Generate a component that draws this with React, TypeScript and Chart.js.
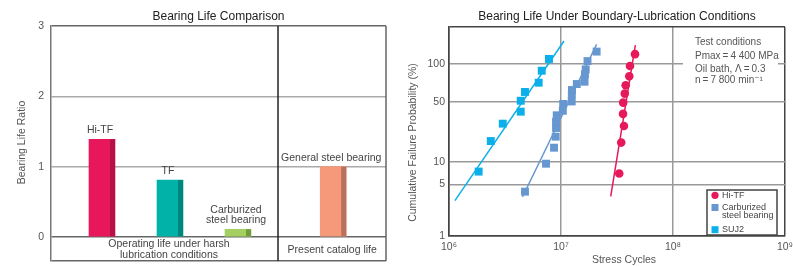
import React, { useEffect, useRef } from 'react';
import { Chart, registerables, LinearScale } from 'chart.js';

Chart.register(...registerables);

const FONT = "'Liberation Sans', Arial, Helvetica, 'DejaVu Sans', sans-serif";

// ---------------- Left chart data ----------------
const leftTitle = 'Bearing Life Comparison';
const leftYAxisTitle = 'Bearing Life Ratio';
const bearingTypes = ['Hi-TF', 'TF', 'Carburized steel bearing', 'General steel bearing'];
const bearingLabelLines = [['Hi-TF'], ['TF'], ['Carburized', 'steel bearing'], ['General steel bearing']];
const lifeRatio = [1.39, 0.81, 0.11, 1.0];
const lifeTicks = [0, 1, 2, 3];
const groupLabels = [['Operating life under harsh', 'lubrication conditions'], ['Present catalog life']];
const groupMembers = [[0, 1, 2], [3]];

// ---------------- Right chart data ----------------
const rightTitle = 'Bearing Life Under Boundary-Lubrication Conditions';
const rightYAxisTitle = 'Cumulative Failure Probability (%)';
const rightXAxisTitle = 'Stress Cycles';
const cycleTicks = [1e6, 1e7, 1e8, 1e9];
const cycleTickLabels = ['10\u2076', '10\u2077', '10\u2078', '10\u2079'];
const probTicks = [1, 5, 10, 50, 90];
const probTickLabels = ['1', '5', '10', '50', '100'];
const probMin = 1;
const probMax = 99.94;

const seriesNames = ['Hi-TF', 'Carburized steel bearing', 'SUJ2'];
const legendLines = [['Hi-TF'], ['Carburized', 'steel bearing'], ['SUJ2']];

const hiTfCycles = [3.31e7, 3.45e7, 3.65e7, 3.58e7, 3.59e7, 3.71e7, 3.78e7, 4.07e7, 4.13e7, 4.58e7];
const hiTfProb = [7.0, 17.5, 27.7, 37.9, 49.3, 59.5, 69.2, 79.0, 88.5, 95.7];

const carbCycles = [4.77e6, 7.35e6, 8.66e6, 8.97e6, 9.03e6, 9.03e6, 9.16e6, 1.038e7, 1.046e7,
  1.246e7, 1.249e7, 1.253e7, 1.384e7, 1.622e7, 1.637e7, 1.662e7, 1.725e7, 2.08e7];
const carbProb = [4.0, 9.4, 15.1, 20.7, 26.3, 31.1, 36.6, 40.9, 47.9,
  50.6, 58.7, 63.7, 70.6, 73.2, 81.1, 85.7, 92.0, 96.7];

const suj2Cycles = [1.84e6, 2.36e6, 3.02e6, 4.37e6, 4.37e6, 4.77e6, 6.32e6, 6.73e6, 7.81e6];
const suj2Prob = [7.4, 18.3, 29.5, 40.0, 51.4, 61.4, 72.1, 84.5, 93.3];

const hiTfFitCycles = [2.78e7, 4.61e7];
const hiTfFitProb = [3.46, 98.5];
const carbFitCycles = [4.53e6, 2.08e7];
const carbFitProb = [3.39, 98.63];
const suj2FitCycles = [1.13e6, 1.064e7];
const suj2FitProb = [3.02, 99.15];

const testConditions = [
  'Test conditions',
  'Pmax\u2009=\u20094 400 MPa',
  'Oil bath, \u039B\u2009=\u20090.3',
  'n\u2009=\u20097 800 min\u207B\u00B9',
];

// ---------------- Layout / style (not data) ----------------
const barSlot = [0, 1, 2, 3.4];
const groupDivider = 2.588;
const barFace = ['#E8165B', '#00B2A8', '#A6CF62', '#F5997A'];
const barSide = ['#B5104A', '#00857D', '#739B3D', '#B9705E'];
const RED = '#E6195B';
const BLUE = '#6797D0';
const CYAN = '#0BB0EA';
const seriesColors = [RED, BLUE, CYAN];
const seriesStyles = ['circle', 'rect', 'rect'];

const weib = (p: number) => Math.log(-Math.log(1 - p / 100));
const weibInv = (w: number) => 100 * (1 - Math.exp(-Math.exp(w)));

class WeibullScale extends (LinearScale as any) {
  static id = 'weibull';
  static defaults = {};
  determineDataLimits() {
    this.min = weib(this.options.min);
    this.max = weib(this.options.max);
  }
  buildTicks() {
    return [];
  }
  getPixelForValue(value: number) {
    if (value == null || isNaN(value)) return NaN;
    return this.getPixelForDecimal((weib(value) - this._startValue) / this._valueRange);
  }
  getValueForPixel(pixel: number) {
    return weibInv(this._startValue + this.getDecimalForPixel(pixel) * this._valueRange);
  }
  getBasePixel() {
    return this.bottom;
  }
}
Chart.register(WeibullScale as any);

function txt(ctx: CanvasRenderingContext2D, s: string, x: number, y: number, size: number, color: string, align: CanvasTextAlign = 'center') {
  ctx.font = `${size}px ${FONT}`;
  ctx.fillStyle = color;
  ctx.textAlign = align;
  ctx.textBaseline = 'middle';
  ctx.fillText(s, x, y);
}

function vTxt(ctx: CanvasRenderingContext2D, s: string, x: number, y: number, size: number, color: string) {
  ctx.save();
  ctx.translate(x, y);
  ctx.rotate(-Math.PI / 2);
  txt(ctx, s, 0, 0, size, color);
  ctx.restore();
}

const leftDecor = {
  id: 'leftDecor',
  afterDatasetsDraw(chart: any) {
    const ctx = chart.ctx;
    const meta = chart.getDatasetMeta(0);
    meta.data.forEach((el: any, i: number) => {
      const p = el.getProps(['x', 'y', 'base', 'width'], true);
      ctx.fillStyle = barSide[i];
      ctx.fillRect(p.x + p.width / 2 - 5, p.y, 5, p.base - p.y);
    });
  },
  afterDraw(chart: any) {
    const { ctx, chartArea: a, scales } = chart;
    const xs = scales.x;
    const ys = scales.y;
    ctx.save();
    ctx.lineWidth = 1.5;
    ctx.strokeStyle = '#222';
    const dx = xs.getPixelForValue(groupDivider);
    ctx.beginPath();
    ctx.moveTo(dx, a.top);
    ctx.lineTo(dx, a.bottom);
    ctx.stroke();
    ctx.strokeStyle = '#666';
    ctx.beginPath();
    ctx.moveTo(a.right, a.top);
    ctx.lineTo(a.right, a.bottom);
    ctx.stroke();

    txt(ctx, leftTitle, (a.left + a.right) / 2, a.top - 9.5, 12, '#222');
    vTxt(ctx, leftYAxisTitle, a.left - 28.5, a.top + 116.5, 10.5, '#555');

    const meta = chart.getDatasetMeta(0);
    meta.data.forEach((el: any, i: number) => {
      const lines = bearingLabelLines[i];
      const n = lines.length;
      lines.forEach((ln, j) => {
        txt(ctx, ln, el.x - 2, el.y - 9 - (n - 1 - j) * 10.5, 10.5, '#444');
      });
    });

    const zero = ys.getPixelForValue(0);
    groupLabels.forEach((lines, g) => {
      const members = groupMembers[g];
      const cx = members.reduce((s, m) => s + meta.data[m].x, 0) / members.length - 1;
      if (lines.length === 1) {
        txt(ctx, lines[0], cx, zero + 13, 10.5, '#444');
      } else {
        lines.forEach((ln, j) => txt(ctx, ln, cx, zero + 7.5 + j * 10.5, 10.5, '#444'));
      }
    });
    ctx.restore();
  },
};

const rightDecor = {
  id: 'rightDecor',
  afterDraw(chart: any) {
    const { ctx, chartArea: a } = chart;
    ctx.save();
    txt(ctx, rightTitle, (a.left + a.right) / 2, a.top - 10.5, 12, '#222');
    vTxt(ctx, rightYAxisTitle, a.left - 36, a.top + 115.5, 10.5, '#555');
    txt(ctx, rightXAxisTitle, a.left + 175, a.bottom + 24.5, 10.5, '#555');

    // test conditions
    ctx.fillStyle = '#fff';
    ctx.fillRect(a.left + 234, a.top + 4, 95, 57);
    const tY = [15.7, 29.7, 42, 53.7];
    testConditions.forEach((s, i) => txt(ctx, s, a.left + 246, a.top + tY[i], 10, '#555', 'left'));

    // legend
    const x1 = a.left + 258;
    const x2 = a.right - 8;
    const y1 = a.bottom - 46;
    const y2 = a.bottom - 1;
    ctx.fillStyle = '#fff';
    ctx.fillRect(x1, y1, x2 - x1, y2 - y1);
    ctx.strokeStyle = '#444';
    ctx.lineWidth = 1.5;
    ctx.strokeRect(x1, y1, x2 - x1, y2 - y1);
    const rowY = [5.3, 17.5, 39.7];
    legendLines.forEach((lines, i) => {
      const cy = y1 + rowY[i];
      ctx.fillStyle = seriesColors[i];
      if (seriesStyles[i] === 'circle') {
        ctx.beginPath();
        ctx.arc(x1 + 8, cy, 3.6, 0, Math.PI * 2);
        ctx.fill();
      } else {
        ctx.fillRect(x1 + 4.5, cy - 3.5, 7, 7);
      }
      lines.forEach((ln, j) => txt(ctx, ln, x1 + 15, cy + j * 8.5, 9, '#444', 'left'));
    });
    ctx.restore();
  },
};

const zip = (xs: number[], ys: number[]) => xs.map((x, i) => ({ x, y: ys[i] }));

export default function App() {
  const leftRef = useRef<HTMLCanvasElement>(null);
  const rightRef = useRef<HTMLCanvasElement>(null);

  useEffect(() => {
    const left = new Chart(leftRef.current as HTMLCanvasElement, {
      type: 'bar',
      data: {
        labels: bearingTypes,
        datasets: [
          {
            label: 'Bearing life ratio',
            data: lifeRatio.map((v, i) => ({ x: barSlot[i], y: v })) as any,
            backgroundColor: barFace,
            borderWidth: 0,
            barThickness: 26,
          },
        ],
      },
      options: {
        responsive: false,
        animation: false,
        events: [],
        layout: { padding: { left: 0, right: 14, top: 26, bottom: 19 } },
        plugins: { legend: { display: false }, tooltip: { enabled: false }, title: { display: false } },
        scales: {
          x: { type: 'linear', display: false, offset: false, min: -0.75, max: 4.176 },
          y: {
            type: 'linear',
            min: -0.341,
            max: 3,
            afterFit: (s: any) => {
              s.width = 51;
            },
            afterBuildTicks: (s: any) => {
              s.ticks = [-0.341, ...lifeTicks].map((value) => ({ value }));
            },
            ticks: {
              autoSkip: false,
              padding: 7,
              color: '#555',
              font: { family: FONT, size: 10.5 },
              callback: (v: any) => (lifeTicks.includes(v) ? String(v) : ''),
            },
            grid: {
              drawTicks: false,
              lineWidth: 1.5,
              color: (c: any) => (c.tick && (c.tick.value === 1 || c.tick.value === 2) ? '#aaa' : '#666'),
            },
            border: { display: true, color: '#777', width: 1.5 },
          },
        },
      } as any,
      plugins: [leftDecor],
    });

    const right = new Chart(rightRef.current as HTMLCanvasElement, {
      type: 'scatter',
      data: {
        datasets: [
          { label: seriesNames[0], data: zip(hiTfCycles, hiTfProb), pointStyle: 'circle', pointRadius: 4.3, backgroundColor: RED, pointBorderWidth: 0, order: 0 },
          { label: seriesNames[1], data: zip(carbCycles, carbProb), pointStyle: 'rect', pointRadius: 5.6, backgroundColor: BLUE, pointBorderWidth: 0, order: 0 },
          { label: seriesNames[2], data: zip(suj2Cycles, suj2Prob), pointStyle: 'rect', pointRadius: 5.6, backgroundColor: CYAN, pointBorderWidth: 0, order: 0 },
          { label: 'Hi-TF fit', data: zip(hiTfFitCycles, hiTfFitProb), showLine: true, pointRadius: 0, borderColor: RED, borderWidth: 1.5, order: 1 },
          { label: 'Carburized fit', data: zip(carbFitCycles, carbFitProb), showLine: true, pointRadius: 0, borderColor: BLUE, borderWidth: 1.5, order: 1 },
          { label: 'SUJ2 fit', data: zip(suj2FitCycles, suj2FitProb), showLine: true, pointRadius: 0, borderColor: CYAN, borderWidth: 1.5, order: 1 },
        ] as any,
      },
      options: {
        responsive: false,
        animation: false,
        events: [],
        layout: { padding: { left: 0, right: 35, top: 27, bottom: 0 } },
        plugins: { legend: { display: false }, tooltip: { enabled: false }, title: { display: false } },
        scales: {
          x: {
            type: 'logarithmic',
            min: 1e6,
            max: 1e9,
            afterFit: (s: any) => {
              s.height = 30;
            },
            afterBuildTicks: (s: any) => {
              s.ticks = cycleTicks.map((value) => ({ value }));
            },
            ticks: {
              autoSkip: false,
              maxRotation: 0,
              padding: 5,
              color: '#555',
              font: { family: FONT, size: 10.5 },
              callback: (v: any) => {
                const i = cycleTicks.indexOf(v);
                return i >= 0 ? cycleTickLabels[i] : '';
              },
            },
            grid: {
              drawTicks: false,
              lineWidth: 1.5,
              color: (c: any) => (c.tick && (c.tick.value === 1e6 || c.tick.value === 1e9) ? '#444' : '#999'),
            },
            border: { display: true, color: '#444', width: 1.5 },
          },
          y: {
            type: 'weibull',
            min: probMin,
            max: probMax,
            afterFit: (s: any) => {
              s.width = 49;
            },
            afterBuildTicks: (s: any) => {
              s.ticks = [...probTicks, probMax].map((value) => ({ value }));
            },
            ticks: {
              autoSkip: false,
              padding: 4,
              color: '#555',
              font: { family: FONT, size: 10.5 },
              callback: (v: any) => {
                const i = probTicks.indexOf(v);
                return i >= 0 ? probTickLabels[i] : '';
              },
            },
            grid: {
              drawTicks: false,
              lineWidth: 1.5,
              color: (c: any) => (c.tick && (c.tick.value === probMax || c.tick.value === probMin) ? '#444' : '#999'),
            },
            border: { display: true, color: '#444', width: 1.5 },
          },
        },
      } as any,
      plugins: [rightDecor],
    });

    return () => {
      left.destroy();
      right.destroy();
    };
  }, []);

  return (
    <div style={{ position: 'fixed', left: 0, top: 0, width: 793, height: 266, overflow: 'hidden', background: '#fff' }}>
      <canvas ref={leftRef} width={400} height={280} style={{ position: 'absolute', left: 0, top: 0 }} />
      <canvas ref={rightRef} width={420} height={266} style={{ position: 'absolute', left: 400, top: 0 }} />
    </div>
  );
}
